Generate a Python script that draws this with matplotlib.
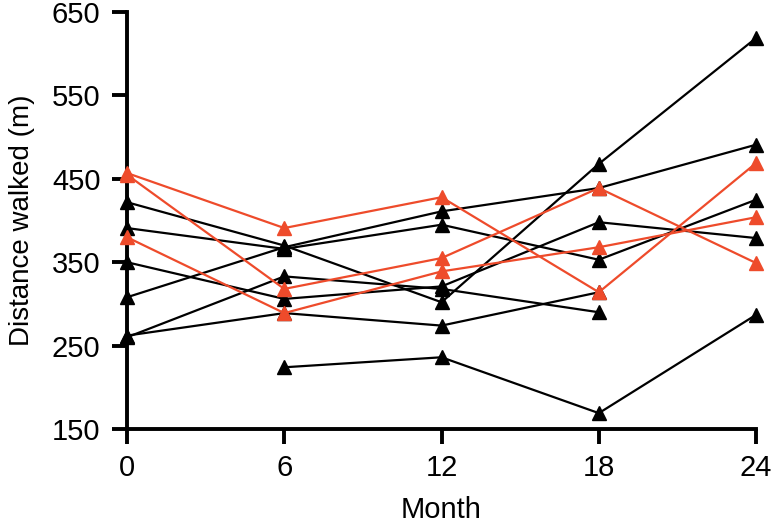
import numpy as np
import matplotlib
matplotlib.use("Agg")
import matplotlib.pyplot as plt

plt.rcParams['font.family'] = ['Liberation Sans', 'DejaVu Sans']

# months of follow-up
months = [0, 6, 12, 18, 24]

# red subjects
red_1 = [457, 391, 428, 314, 469]
red_2 = [455, 318, 355, 439, 349]
red_3 = [380, 289, 339, 368, 404]

# black subjects (nan = not measured)
nan = np.nan
black_1 = [422, 370, 302, 468, 619]
black_2 = [391, 366, 395, 353, 425]
black_3 = [308, 368, 411, 439, 491]
black_4 = [350, 306, 321, 398, 379]
black_5 = [260, 333, 318, 290, nan]
black_6 = [262, 289, 274, 314, nan]
black_7 = [nan, 224, 236, 169, 287]

red_series = [red_1, red_2, red_3]
black_series = [black_1, black_2, black_3, black_4, black_5, black_6, black_7]

RED = "#EE4B2B"

fig = plt.figure(figsize=(7.71, 5.27), dpi=100)
ax = fig.add_axes([0.1647, 0.186, 0.816, 0.791])

for s in black_series:
    ax.plot(months, s, color="black", lw=1.6, marker="^", ms=9.5,
            clip_on=False, zorder=3)
for s in red_series:
    ax.plot(months, s, color=RED, lw=1.6, marker="^", ms=9.5,
            clip_on=False, zorder=4)

ax.set_xlim(0, 24)
ax.set_ylim(150, 650)
ax.set_xticks(months)
ax.set_yticks([150, 250, 350, 450, 550, 650])

for side in ["top", "right"]:
    ax.spines[side].set_visible(False)
for side in ["left", "bottom"]:
    ax.spines[side].set_linewidth(2.8)

ax.tick_params(axis="both", direction="out", length=11, width=2.8,
               labelsize=21)
ax.tick_params(axis="x", pad=7)
ax.tick_params(axis="y", pad=8)
ax.set_xlabel("Month", fontsize=21, labelpad=10)
ax.set_ylabel("Distance walked (m)", fontsize=20, labelpad=12)

fig.savefig("out.png", dpi=100)
